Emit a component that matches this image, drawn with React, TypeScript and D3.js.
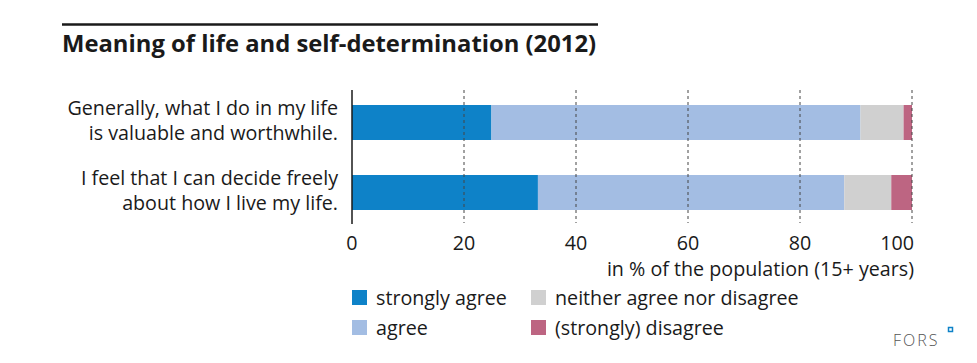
import { useEffect, useRef } from "react";
import * as d3 from "d3";

const categories = [
  ["Generally, what I do in my life", "is valuable and worthwhile."],
  ["I feel that I can decide freely", "about how I live my life."],
];
const seriesNames = [
  "strongly agree",
  "agree",
  "neither agree nor disagree",
  "(strongly) disagree",
];
const seriesColors = ["#0e82c8", "#a3bde3", "#d0d0d0", "#bd6582"];
const stronglyAgree = [24.9, 33.2];
const agree = [65.9, 54.7];
const neither = [7.7, 8.4];
const disagree = [1.5, 3.7];
const xTicks = [0, 20, 40, 60, 80, 100];

const FONT = "'Open Sans', sans-serif";
const FS = 19.7;

export default function App() {
  const svgRef = useRef<SVGSVGElement | null>(null);

  useEffect(() => {
    if (!svgRef.current) return;
    const svg = d3.select(svgRef.current);
    svg.selectAll("*").remove();

    const x = d3.scaleLinear().domain([0, 100]).range([352, 912]);
    // step 70, bar 35
    const y = d3
      .scaleBand<number>()
      .domain(categories.map((_, i) => i))
      .range([105, 210])
      .paddingInner(0.5)
      .paddingOuter(0);

    const rows = categories.map((_, i) => [
      stronglyAgree[i],
      agree[i],
      neither[i],
      disagree[i],
    ]);

    // title
    svg
      .append("line")
      .attr("x1", 62)
      .attr("x2", 598)
      .attr("y1", 24.5)
      .attr("y2", 24.5)
      .attr("stroke", "#1a1a1a")
      .attr("stroke-width", 2.5);
    svg
      .append("text")
      .attr("x", 62)
      .attr("y", 52)
      .attr("font-family", FONT)
      .attr("font-weight", 700)
      .attr("font-size", 23.8)
      .attr("fill", "#1a1a1a")
      .text("Meaning of life and self-determination (2012)");

    // bars
    rows.forEach((vals, i) => {
      let acc = 0;
      vals.forEach((v, j) => {
        svg
          .append("rect")
          .attr("x", x(acc))
          .attr("y", y(i)!)
          .attr("width", x(acc + v) - x(acc))
          .attr("height", y.bandwidth())
          .attr("fill", seriesColors[j]);
        acc += v;
      });
    });

    // grid
    xTicks.slice(1).forEach((t) => {
      svg
        .append("line")
        .attr("x1", x(t))
        .attr("x2", x(t))
        .attr("y1", 90)
        .attr("y2", 223)
        .attr("stroke", "#444")
        .attr("stroke-width", 1)
        .attr("stroke-dasharray", "3,3");
    });
    svg
      .append("line")
      .attr("x1", x(0))
      .attr("x2", x(0))
      .attr("y1", 90)
      .attr("y2", 224)
      .attr("stroke", "#1a1a1a")
      .attr("stroke-width", 1.5);

    // tick labels
    svg
      .append("g")
      .selectAll("text")
      .data(xTicks)
      .join("text")
      .attr("x", (d) => (d === 100 ? x(d) + 2 : x(d)))
      .attr("y", 250)
      .attr("text-anchor", (d) => (d === 100 ? "end" : "middle"))
      .attr("font-family", FONT)
      .attr("font-size", FS)
      .attr("fill", "#1a1a1a")
      .text((d) => d);
    svg
      .append("text")
      .attr("x", 914)
      .attr("y", 276)
      .attr("text-anchor", "end")
      .attr("font-family", FONT)
      .attr("font-size", FS)
      .attr("fill", "#1a1a1a")
      .text("in % of the population (15+ years)");

    // category labels
    categories.forEach((lines, i) => {
      lines.forEach((line, k) => {
        svg
          .append("text")
          .attr("x", 338)
          .attr("y", y(i)! + 10 + k * 25)
          .attr("text-anchor", "end")
          .attr("font-family", FONT)
          .attr("font-size", FS)
          .attr("fill", "#1a1a1a")
          .text(line);
      });
    });

    // legend
    const legendPos = [
      [352, 290],
      [352, 320],
      [531, 290],
      [531, 320],
    ];
    seriesNames.forEach((name, j) => {
      const [lx, ly] = legendPos[j];
      svg
        .append("rect")
        .attr("x", lx)
        .attr("y", ly)
        .attr("width", 15)
        .attr("height", 15)
        .attr("fill", seriesColors[j]);
      svg
        .append("text")
        .attr("x", lx + 24)
        .attr("y", ly + 15)
        .attr("font-family", FONT)
        .attr("font-size", FS)
        .attr("fill", "#1a1a1a")
        .text(name);
    });

    // FORS
    svg
      .append("text")
      .attr("x", 893)
      .attr("y", 346)
      .attr("font-family", FONT)
      .attr("font-size", 16)
      .attr("font-weight", 300)
      .attr("letter-spacing", 2)
      .attr("fill", "#555")
      .text("FORS");
    svg
      .append("rect")
      .attr("x", 948.5)
      .attr("y", 327.5)
      .attr("width", 4)
      .attr("height", 4)
      .attr("fill", "none")
      .attr("stroke", "#0e82c8")
      .attr("stroke-width", 1.5);
  }, []);

  return (
    <div style={{ margin: -8 }}>
      <svg ref={svgRef} width={977} height={363} style={{ display: "block", background: "#fff" }} />
    </div>
  );
}
